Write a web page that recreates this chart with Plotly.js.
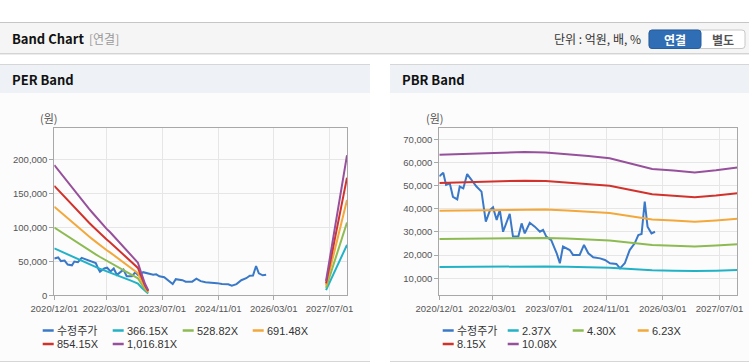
<!DOCTYPE html>
<html><head><meta charset="utf-8">
<script src="https://cdn.plot.ly/plotly-3.0.1.min.js"></script>
<style>html,body{margin:0;padding:0;background:#fff}#chart{width:749px;height:364px}</style>
</head><body><div id="chart"></div>
<script>
// ---------- DATA ----------
const tickDates  = ['2020-12-01','2022-03-01','2023-07-01','2024-11-01','2026-03-01','2027-07-01'];
const tickLabels = ['2020/12/01','2022/03/01','2023/07/01','2024/11/01','2026/03/01','2027/07/01'];

const perYTicks = [0, 50000, 100000, 150000, 200000];
const pbrYTicks = [10000, 20000, 30000, 40000, 50000, 60000, 70000];

// 수정주가 (adjusted price)
const priceDates = ['2020-12-01','2021-01-04','2021-01-28','2021-03-01','2021-03-28','2021-05-04','2021-05-25','2021-06-25',
  '2021-07-28','2021-09-04','2021-10-16','2021-11-28','2021-12-19','2022-01-04','2022-02-10','2022-03-07','2022-04-07',
  '2022-05-04','2022-06-01','2022-07-28','2022-08-25','2022-10-10','2022-11-07','2022-12-04','2023-01-16','2023-02-28',
  '2023-04-13','2023-05-10','2023-06-07','2023-07-19','2023-09-04','2023-10-01','2023-10-28','2023-12-25','2024-01-22',
  '2024-03-19','2024-04-25','2024-06-01','2024-07-13','2024-09-10','2024-10-22','2024-12-04','2025-01-28','2025-02-28',
  '2025-04-10','2025-05-22','2025-07-04','2025-08-04','2025-09-01','2025-09-28','2025-10-22','2025-11-25','2025-12-25'];
const priceValues = [54000,55600,50300,51000,45200,44100,49600,48800,
  55000,52400,49600,47400,39500,34500,39500,40600,35200,
  39500,30100,37800,28000,28000,33700,29400,34000,32300,
  30100,30900,28000,26500,20800,16500,23700,22200,20100,
  20100,24400,20800,19100,18600,17900,16500,16200,14300,
  16500,22200,25100,28700,29100,43100,32300,29400,30100];

// PER band
const perNames = ['수정주가','366.15X','528.82X','691.48X','854.15X','1,016.81X'];
const perBandDates = ['2020-12-01','2021-01-01','2021-02-01','2021-03-01','2021-04-01','2021-05-01','2021-06-01',
  '2021-07-01','2021-08-01','2021-09-01','2021-10-01','2021-11-01','2021-12-01','2022-01-01','2022-02-01',
  '2022-03-01','2022-04-01','2022-05-01','2022-06-01','2022-07-01','2022-08-01','2022-09-01','2022-10-01',
  '2022-11-01','2022-12-01','2023-01-01','2023-02-01','2023-03-01',
  '2025-01-01',
  '2027-06-01','2027-07-01','2027-08-01','2027-09-01','2027-10-01','2027-11-01','2027-12-01'];
const per366 = [69000,66600,64100,61900,59400,56900,54700,52400,50000,47900,45700,43600,41400,39200,37300,35300,33500,31500,29500,27500,25600,23600,21600,19400,17300,11500,6100,2700,
  null, 7600,18700,29900,40900,52000,63000,74200];
const per529 = [99600,96200,92600,89400,85800,82200,79000,75700,72300,69200,66000,62900,59800,56700,53800,51000,48400,45500,42600,39800,36900,34100,31200,28100,25000,16600,8800,3900,
  null, 10900,27000,43200,59000,75100,91000,107100];
const per691 = [130300,125800,121000,117000,112200,107400,103400,98900,94500,90400,86400,82300,78200,74100,70400,66600,63200,59500,55800,52000,48300,44500,40800,36700,32600,21800,11600,5100,
  null, 14300,35400,56400,77200,98300,119000,140100];
const per854 = [161000,155400,149500,144500,138600,132700,127700,122200,116800,111700,106700,101600,96600,91600,86900,82300,78100,73500,68900,64300,59600,55000,50400,45400,40300,26900,14300,6300,
  null, 17600,43700,69700,95300,121400,147000,173000];
const per1017 = [191600,185000,178000,172000,165000,158000,152000,145500,139000,133000,127000,121000,115000,109000,103500,98000,93000,87500,82000,76500,71000,65500,60000,54000,48000,32000,17000,7500,
  null, 21000,52000,83000,113500,144500,175000,206000];

// PBR band
const pbrNames = ['수정주가','2.37X','4.30X','6.23X','8.15X','10.08X'];
const pbrBandDates = ['2020-12-01','2021-06-01','2021-12-01','2022-06-01','2022-12-01','2023-06-01','2023-12-01',
  '2024-06-01','2024-12-01','2025-06-01','2025-12-01','2026-06-01','2026-12-01','2027-06-01','2027-12-01'];
const pbr237  = [14880,14950,15020,15090,15160,15120,14950,14760,14530,13990,13450,13280,13100,13310,13590];
const pbr430  = [27000,27130,27260,27390,27520,27430,27130,26790,26360,25380,24400,24100,23760,24150,24660];
const pbr623  = [39130,39310,39500,39680,39870,39740,39310,38820,38200,36780,35360,34920,34430,34980,35730];
const pbr815  = [51180,51420,51660,51910,52150,51990,51420,50770,49970,48110,46250,45680,45030,45760,46730];
const pbr1008 = [63300,63600,63900,64200,64500,64300,63600,62800,61800,59500,57200,56500,55700,56600,57800];

const seriesColors = ['#3a78c8','#22b2c6','#8dbb52','#f2a83a','#d2322c','#97509b'];

// ---------- BUILD ----------
const W = 749, H = 364;
const px = x => x / W;
const py = y => 1 - y / H;
const FONT = 'Liberation Sans, Arial, "Noto Sans CJK KR", sans-serif';
const KFONT = '"Noto Sans CJK KR", "Liberation Sans", sans-serif';

const perBands = [per366, per529, per691, per854, per1017];
const pbrBands = [pbr237, pbr430, pbr623, pbr815, pbr1008];

const traces = [];
function line(x, y, c, xa, ya, name) {
  return {type:'scatter', mode:'lines', x:x, y:y, name:name, xaxis:xa, yaxis:ya,
          line:{color:c, width:2}, connectgaps:false, showlegend:false, hoverinfo:'skip'};
}
traces.push(line(priceDates, priceValues, seriesColors[0], 'x', 'y', perNames[0]));
perBands.forEach((b, i) => traces.push(line(perBandDates, b, seriesColors[i+1], 'x', 'y', perNames[i+1])));
traces.push(line(priceDates, priceValues, seriesColors[0], 'x2', 'y2', pbrNames[0]));
pbrBands.forEach((b, i) => traces.push(line(pbrBandDates, b, seriesColors[i+1], 'x2', 'y2', pbrNames[i+1])));

const axisCommon = {showline:true, mirror:true, linecolor:'#a8a8a8', linewidth:1,
  showgrid:true, gridcolor:'#e6e6e6', gridwidth:1, zeroline:false,
  ticks:'outside', ticklen:4, tickcolor:'#a8a8a8',
  tickfont:{family:FONT, size:9.5, color:'#555'}, fixedrange:true};
const yDomain = [py(295.3), py(128.3)];

const shapes = [];
const annotations = [];
function rect(x0, y0, x1, y1, fill, lineColor) {
  shapes.push({type:'rect', xref:'paper', yref:'paper', x0:px(x0), x1:px(x1), y0:py(y1), y1:py(y0),
    fillcolor:fill, line:{width: lineColor ? 1 : 0, color: lineColor || fill}, layer:'below'});
}
function hline(x0, x1, y, color, w) {
  shapes.push({type:'line', xref:'paper', yref:'paper', x0:px(x0), x1:px(x1), y0:py(y), y1:py(y),
    line:{color:color, width:w || 1}, layer:'below'});
}
function rr(x0, y0, x1, y1, r, fill, lc) {
  const P = (x, y) => px(x) + ',' + py(y);
  const path = `M${P(x0+r,y0)}L${P(x1-r,y0)}Q${P(x1,y0)} ${P(x1,y0+r)}L${P(x1,y1-r)}Q${P(x1,y1)} ${P(x1-r,y1)}` +
               `L${P(x0+r,y1)}Q${P(x0,y1)} ${P(x0,y1-r)}L${P(x0,y0+r)}Q${P(x0,y0)} ${P(x0+r,y0)}Z`;
  shapes.push({type:'path', xref:'paper', yref:'paper', path:path, fillcolor:fill,
    line:{color:lc, width:1}, layer:'above'});
}
function text(t, x, y, opts) {
  annotations.push(Object.assign({text:t, xref:'paper', yref:'paper', x:px(x), y:py(y),
    showarrow:false, xanchor:'left', yanchor:'middle', borderpad:0,
    font:{family:FONT, size:11, color:'#333'}}, opts || {}));
}

// page header
rect(0, 22, 749, 53, '#f5f5f5');
hline(0, 749, 22.5, '#c6c6c6');
hline(0, 749, 53.5, '#d4d4d4');
hline(0, 749, 54.5, '#ececec');
text('<b>Band Chart</b>', 11, 38.5, {font:{family:KFONT, size:13, color:'#111'}});
text('[연결]', 88, 38.5, {font:{family:KFONT, size:12, color:'#999'}});
text('단위 : 억원, 배, %', 642, 39, {xanchor:'right', font:{family:KFONT, size:12, color:'#333'}});
rr(649, 30, 745, 48.5, 3, '#ffffff', '#c8c8c8');
rr(649, 30, 701, 48.5, 3, '#2f6db4', '#285e9e');
text('<b>연결</b>', 675, 39.5, {xanchor:'center', font:{family:KFONT, size:12, color:'#ffffff'}});
text('<b>별도</b>', 723, 39.5, {xanchor:'center', font:{family:KFONT, size:12, color:'#555'}});

// panels
const panels = [
  {x0:0, x1:370, title:'PER Band', unitX:49, names:perNames, legX:42.7, legStep:70},
  {x0:390, x1:749, title:'PBR Band', unitX:435, names:pbrNames, legX:442.7, legStep:65}
];
panels.forEach(p => {
  rect(p.x0, 64, p.x1, 362, '#fcfcfc');
  rect(p.x0, 64, p.x1, 93, '#eef2f7');
  hline(p.x0, p.x1, 64.5, '#d6d6d6');
  hline(p.x0, p.x1, 361.5, '#d6d6d6');
  text('<b>' + p.title + '</b>', p.x0 + 11, 79.5, {font:{family:KFONT, size:13, color:'#111'}});
  text('(원)', p.unitX, 118, {xanchor:'center', font:{family:KFONT, size:11, color:'#555'}});
  p.names.forEach((n, i) => {
    const col = i % 4, row = Math.floor(i / 4);
    const sx = p.legX + col * p.legStep;
    const sy = 330.5 + row * 13.5;
    shapes.push({type:'line', xref:'paper', yref:'paper', x0:px(sx), x1:px(sx + 11), y0:py(sy), y1:py(sy),
      line:{color:seriesColors[i], width:2.5}, layer:'above'});
    text(n, sx + 13, sy, {font:{family:FONT, size:11, color:'#333'}});
  });
});

const layout = {
  width:W, height:H, margin:{l:0, r:0, t:0, b:0},
  paper_bgcolor:'#ffffff', plot_bgcolor:'rgba(0,0,0,0)',
  showlegend:false, hovermode:false,
  xaxis: Object.assign({}, axisCommon, {type:'date', domain:[px(54.3), px(347)], anchor:'y',
    range:['2020-12-01','2027-12-01'], tickmode:'array', tickvals:tickDates, ticktext:tickLabels}),
  yaxis: Object.assign({}, axisCommon, {domain:yDomain, anchor:'x', range:[0, 245600],
    tickmode:'array', tickvals:perYTicks, tickformat:','}),
  xaxis2: Object.assign({}, axisCommon, {type:'date', domain:[px(439.3), px(737.3)], anchor:'y2',
    range:['2020-12-01','2027-12-01'], tickmode:'array', tickvals:tickDates, ticktext:tickLabels}),
  yaxis2: Object.assign({}, axisCommon, {domain:yDomain, anchor:'x2', range:[2660, 74750],
    tickmode:'array', tickvals:pbrYTicks, tickformat:','}),
  shapes:shapes, annotations:annotations
};

Plotly.newPlot('chart', traces, layout, {staticPlot:true, displayModeBar:false});
</script>
</body></html>
